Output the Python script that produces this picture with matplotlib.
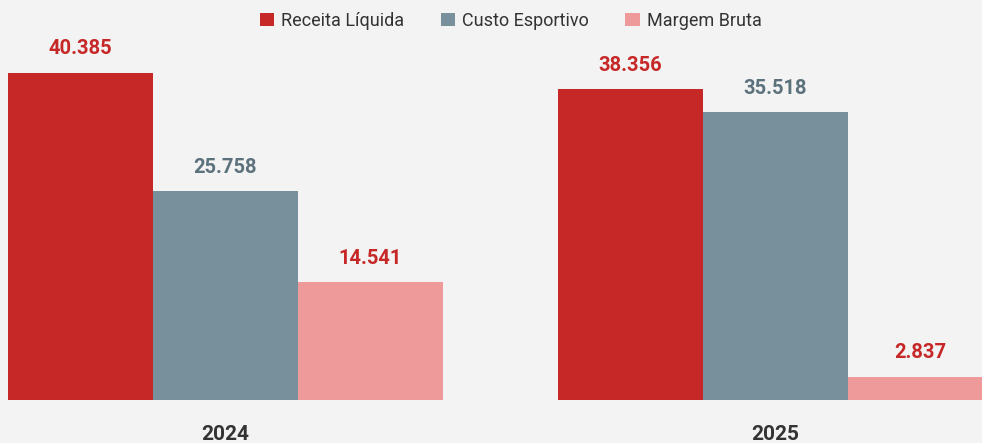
import matplotlib.pyplot as plt
import numpy as np

years = ['2024', '2025']
series = ['Receita Líquida', 'Custo Esportivo', 'Margem Bruta']
receita = [40385, 38356]
custo = [25758, 35518]
margem = [14541, 2837]

colors = ['#C62828', '#78909C', '#EF9A9A']
label_colors = ['#C62828', '#5B717C', '#C62828']

plt.rcParams['font.family'] = ['Roboto', 'DejaVu Sans']

fig = plt.figure(figsize=(9.82, 4.43), dpi=100)
fig.patch.set_facecolor('#F3F3F3')
ax = fig.add_axes([0, 43 / 443, 1, 400 / 443])
ax.set_facecolor('#F3F3F3')

x = np.arange(len(years))
w = 145 / 550
for i, (name, vals) in enumerate(zip(series, [receita, custo, margem])):
    pos = x + (i - 1) * w
    ax.bar(pos, vals, width=w, color=colors[i], label=name, linewidth=0)
    for p, v in zip(pos, vals):
        ax.text(p, v + 1800, f'{v / 1000:.3f}', ha='center', va='bottom',
                fontsize=14.5, fontweight='bold', color=label_colors[i])

ax.set_xlim(-0.41, -0.41 + 982 / 550)
ax.set_ylim(0, 49400)
for s in ax.spines.values():
    s.set_visible(False)
ax.set_yticks([])
ax.set_xticks(x)
ax.set_xticklabels(years, fontsize=15, fontweight='bold', color='#333333')
ax.tick_params(axis='x', length=0, pad=18)

fig.legend(loc='upper center', bbox_to_anchor=(0.52, 1.01), ncol=3, frameon=False,
           fontsize=13, handlelength=0.8, handleheight=0.8, handletextpad=0.4,
           columnspacing=2.0, labelcolor='#333333')

fig.savefig('out.png', dpi=100, facecolor=fig.get_facecolor())
